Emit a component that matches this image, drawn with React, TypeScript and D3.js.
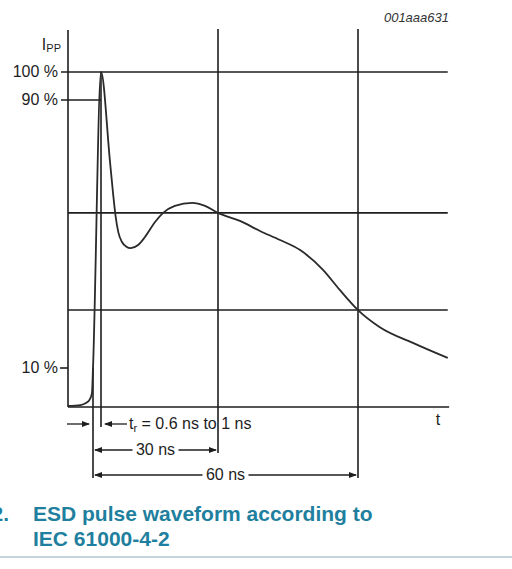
import * as d3 from "d3";

// ESD current pulse (IEC 61000-4-2), time in ns, current in % of Ipp
const pulseTime = [
  -6, -3, -1.7, -0.7, -0.25, 0, 1, 3.2, 4.0, 4.6, 5.3, 6.2, 7.2, 8.4, 10.2, 11.9, 14.4,
  16.4, 19.3, 23.6, 26.8, 30, 34.7, 39, 43.3, 47.6, 52.5, 56.1, 60, 64.7, 71.8, 79.3,
];
const pulseCurrent = [
  0.3, 0.5, 1.0, 2.1, 3.6, 10, 100, 72, 62, 55.5, 50.5, 47.6, 46.3, 45.8, 46.7, 49.1, 53.6,
  56.3, 58.4, 59.3, 58.4, 56.3, 53.9, 50.9, 48.2, 45.2, 39.3, 33.3, 27.3, 22.2, 17.5, 13.0,
];

const levelTicks = [100, 90, 10];
const levelLabels = ["100 %", "90 %", "10 %"];
const gridLevels = [56.3, 27.3];
const gridTimes = [30, 60];
const spanEnds = [30, 60];
const spanLabels = ["30 ns", "60 ns"];

const INK = "#1e1e1e";
const FONT = "Liberation Sans, Arial, sans-serif";

function Arrow({ x, y, dir }: { x: number; y: number; dir: 1 | -1 }) {
  // tip at (x, y), pointing in dir (1 = right)
  const l = 8 * dir;
  return <path d={`M${x},${y} L${x - l},${y - 3} L${x - l},${y + 3} Z`} fill={INK} />;
}

export default function App() {
  const x = d3.scaleLinear().domain([-6, 0, 1, 30, 60, 80]).range([68, 93, 101, 218, 358, 451]);
  const y = d3.scaleLinear().domain([0, 10, 90, 100]).range([407, 368, 100, 72]);

  const top = 29;
  const rowTr = 424;
  const rowSpan = [450, 475];
  const tEnd = 79.3;

  const pts = pulseTime.map((t, i) => [t, pulseCurrent[i]] as [number, number]);
  const line = d3
    .line<[number, number]>()
    .x((d) => x(d[0]))
    .y((d) => y(d[1]))
    .curve(d3.curveMonotoneX);

  return (
    <svg
      width={512}
      height={569}
      style={{ position: "absolute", left: 0, top: 0, background: "#fff" }}
      fontFamily={FONT}
    >
      <text x={449} y={22} fontSize={13} fontStyle="italic" textAnchor="end" fill="#333">
        001aaa631
      </text>

      {/* axes */}
      <g stroke={INK} strokeWidth={1.6} fill="none">
        <line x1={x(-6)} x2={x(-6)} y1={top + 1} y2={y(0)} />
        <line x1={x(-6)} x2={x(tEnd + 0.3)} y1={y(0)} y2={y(0)} />
        {/* grid */}
        <line x1={x(-6) - 7} x2={x(tEnd)} y1={y(100)} y2={y(100)} />
        <line x1={x(-6) - 7} x2={x(1)} y1={y(90)} y2={y(90)} />
        <line x1={x(-6) - 8} x2={x(-6)} y1={y(10)} y2={y(10)} />
        {gridLevels.map((v) => (
          <line key={v} x1={x(-6)} x2={x(tEnd)} y1={y(v)} y2={y(v)} />
        ))}
        {gridTimes.map((t, i) => (
          <line key={t} x1={x(t)} x2={x(t)} y1={top} y2={rowSpan[i] + 3} />
        ))}
        <line x1={x(0)} x2={x(0)} y1={y(10)} y2={rowSpan[1] + 3} />
        <line x1={x(1)} x2={x(1)} y1={y(100)} y2={rowTr + 3} />
      </g>

      {/* waveform */}
      <path d={line(pts) ?? ""} fill="none" stroke="#2a2a2a" strokeWidth={1.8} />

      {/* level labels */}
      <g fontSize={16} fill={INK} textAnchor="end">
        {levelTicks.map((v, i) => (
          <text key={v} x={58} y={y(v) + 5}>
            {levelLabels[i]}
          </text>
        ))}
        <text x={61} y={50}>
          I
          <tspan fontSize={11} dy={2}>
            PP
          </tspan>
        </text>
      </g>

      <text x={438} y={425} fontSize={16} fill={INK} textAnchor="middle">
        t
      </text>

      {/* rise time annotation */}
      <g stroke={INK} strokeWidth={1.3}>
        <line x1={x(-6) - 1} x2={x(0) - 4} y1={rowTr} y2={rowTr} />
        <line x1={x(1) + 4} x2={x(1) + 26} y1={rowTr} y2={rowTr} />
      </g>
      <Arrow x={x(0) - 3} y={rowTr} dir={1} />
      <Arrow x={x(1) + 3} y={rowTr} dir={-1} />
      <text x={x(1) + 28} y={rowTr + 5} fontSize={16} fill={INK}>
        t
        <tspan fontSize={11} dy={3}>
          r
        </tspan>
        <tspan dy={-3}> = 0.6 ns to 1 ns</tspan>
      </text>

      {/* duration spans */}
      {spanEnds.map((t, i) => {
        const x0 = x(0);
        const x1 = x(t);
        const cx = (x0 + x1) / 2;
        const half = 23;
        const ry = rowSpan[i];
        return (
          <g key={t}>
            <g stroke={INK} strokeWidth={1.3}>
              <line x1={x0 + 2} x2={cx - half} y1={ry} y2={ry} />
              <line x1={cx + half} x2={x1 - 2} y1={ry} y2={ry} />
            </g>
            <Arrow x={x0 + 1} y={ry} dir={-1} />
            <Arrow x={x1 - 1} y={ry} dir={1} />
            <text x={cx} y={ry + 5} fontSize={16} fill={INK} textAnchor="middle">
              {spanLabels[i]}
            </text>
          </g>
        );
      })}

      {/* caption */}
      <g fill="#1f7f9e" fontWeight="bold" fontSize={21}>
        <text x={9} y={521} textAnchor="end">
          2.
        </text>
        <text x={33} y={521}>ESD pulse waveform according to</text>
        <text x={33} y={546}>IEC 61000-4-2</text>
      </g>
      <line x1={0} x2={512} y1={557} y2={557} stroke="#c5d3dc" strokeWidth={2} />
    </svg>
  );
}
